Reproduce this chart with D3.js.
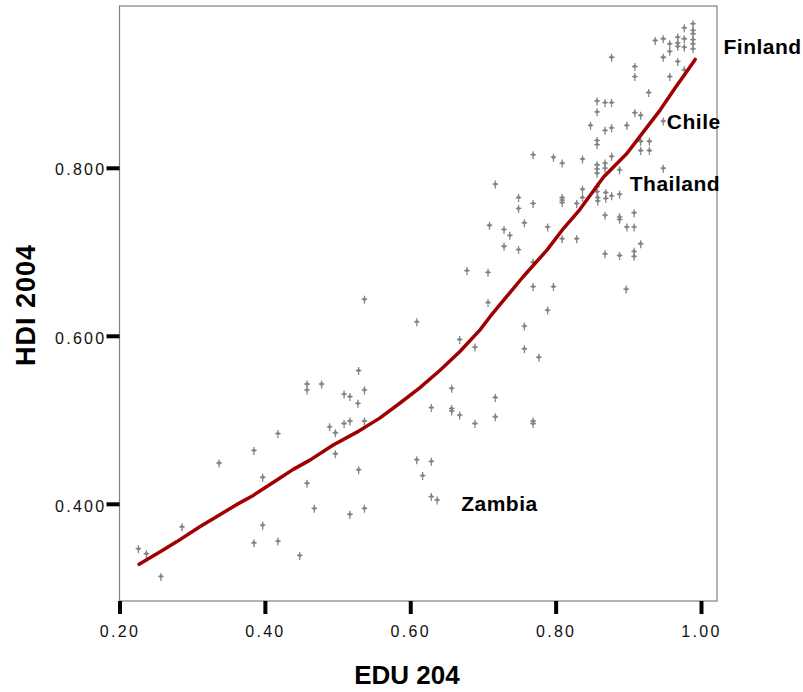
<!DOCTYPE html>
<html>
<head>
<meta charset="utf-8">
<script src="https://cdn.jsdelivr.net/npm/d3@7"></script>
<style>
	html, body { margin: 0; padding: 0; background: #fff; }
	svg { display: block; font-family: "Liberation Sans", Arial, sans-serif; }
</style>
</head>
<body>
<div id="chart"></div>
<script>
// scatter: education index vs HDI, one entry per country
var eduValues = [
	0.226, 0.237, 0.257, 0.286, 0.337, 0.385, 0.397, 0.418, 0.397, 0.385,
	0.418, 0.448, 0.458, 0.458, 0.458, 0.537, 0.609, 0.668, 0.689, 0.529,
	0.478, 0.509, 0.517, 0.537, 0.528, 0.489, 0.497, 0.509, 0.517, 0.537,
	0.497, 0.529, 0.468, 0.517, 0.537, 0.657, 0.629, 0.657, 0.657, 0.668,
	0.689, 0.609, 0.629, 0.617, 0.629, 0.637, 0.678, 0.707, 0.707, 0.769,
	0.797, 0.809, 0.837, 0.717, 0.749, 0.749, 0.769, 0.809, 0.809, 0.809,
	0.837, 0.837, 0.829, 0.709, 0.729, 0.737, 0.757, 0.789, 0.809, 0.829,
	0.729, 0.749, 0.769, 0.769, 0.797, 0.789, 0.757, 0.757, 0.777, 0.717,
	0.717, 0.769, 0.769, 0.858, 0.858, 0.869, 0.869, 0.877, 0.888, 0.868,
	0.888, 0.888, 0.908, 0.898, 0.908, 0.917, 0.868, 0.888, 0.908, 0.908,
	0.897, 0.928, 0.857, 0.868, 0.877, 0.857, 0.909, 0.917, 0.948, 0.848,
	0.868, 0.877, 0.898, 0.857, 0.857, 0.917, 0.929, 0.917, 0.929, 0.877,
	0.857, 0.857, 0.857, 0.868, 0.868, 0.888, 0.948, 0.857, 0.857, 0.877,
	0.909, 0.909, 0.937, 0.948, 0.957, 0.957, 0.968, 0.968, 0.968, 0.977,
	0.977, 0.977, 0.989, 0.989, 0.989, 0.989, 0.989, 0.989, 0.948, 0.968,
	0.957, 0.977
];
var hdiValues = [
	0.346, 0.340, 0.313, 0.372, 0.448, 0.463, 0.431, 0.483, 0.374, 0.353,
	0.355, 0.338, 0.542, 0.535, 0.424, 0.643, 0.616, 0.595, 0.586, 0.558,
	0.542, 0.530, 0.527, 0.535, 0.519, 0.491, 0.484, 0.495, 0.498, 0.498,
	0.459, 0.440, 0.394, 0.387, 0.394, 0.537, 0.514, 0.513, 0.510, 0.505,
	0.495, 0.452, 0.450, 0.433, 0.408, 0.404, 0.677, 0.675, 0.639, 0.815,
	0.812, 0.805, 0.810, 0.780, 0.764, 0.751, 0.757, 0.764, 0.761, 0.758,
	0.774, 0.764, 0.757, 0.731, 0.726, 0.719, 0.734, 0.729, 0.715, 0.715,
	0.706, 0.702, 0.687, 0.658, 0.658, 0.630, 0.611, 0.584, 0.574, 0.526,
	0.503, 0.498, 0.495, 0.764, 0.760, 0.770, 0.763, 0.766, 0.768, 0.743,
	0.741, 0.738, 0.746, 0.729, 0.729, 0.709, 0.697, 0.695, 0.700, 0.694,
	0.655, 0.889, 0.879, 0.877, 0.877, 0.866, 0.865, 0.862, 0.855, 0.850,
	0.844, 0.847, 0.850, 0.832, 0.827, 0.831, 0.831, 0.820, 0.820, 0.813,
	0.803, 0.798, 0.793, 0.805, 0.799, 0.797, 0.799, 0.777, 0.771, 0.931,
	0.920, 0.908, 0.951, 0.953, 0.947, 0.938, 0.955, 0.948, 0.944, 0.966,
	0.953, 0.943, 0.971, 0.963, 0.959, 0.952, 0.947, 0.941, 0.931, 0.926,
	0.908, 0.916
];

// loess fit line
var fitEdu = [0.227, 0.256, 0.279, 0.311, 0.338, 0.361, 0.384, 0.416, 0.439, 0.462,
	0.494, 0.526, 0.558, 0.586, 0.613, 0.641, 0.668, 0.696, 0.710, 0.755,
	0.788, 0.811, 0.833, 0.866, 0.898, 0.921, 0.944, 0.966, 0.980, 0.992];
var fitHdi = [0.328, 0.343, 0.355, 0.373, 0.387, 0.399, 0.410, 0.428, 0.441, 0.452,
	0.470, 0.485, 0.502, 0.520, 0.538, 0.559, 0.581, 0.607, 0.623, 0.670,
	0.702, 0.728, 0.750, 0.789, 0.817, 0.843, 0.869, 0.897, 0.914, 0.929];

var xTicks = [0.2, 0.4, 0.6, 0.8, 1.0];
var yTicks = [0.4, 0.6, 0.8];

// country labels
var labelNames = ['Finland', 'Chile', 'Thailand', 'Zambia'];
var labelEdu = [1.031, 0.953, 0.902, 0.670];
var labelHdi = [0.944, 0.855, 0.781, 0.400];

var width = 803, height = 692;

var svg = d3.select('#chart').append('svg')
	.attr('width', width)
	.attr('height', height);

var x = d3.scaleLinear().domain([0.2, 1.022]).range([119.5, 717]);
var y = d3.scaleLinear().domain([0.2843, 0.9926]).range([601, 6]);

/*
 * frame
 */
svg.append('rect')
	.attr('x', x.range()[0])
	.attr('y', y.range()[1])
	.attr('width', x.range()[1]-x.range()[0])
	.attr('height', y.range()[0]-y.range()[1])
	.attr('fill', 'none')
	.attr('stroke', '#808080')
	.attr('stroke-width', 1.2);

/*
 * axes
 */
var xAxis = svg.append('g')
	.attr('transform', 'translate(0,' + y.range()[0] + ')')
	.call(d3.axisBottom(x).tickValues(xTicks).tickFormat(d3.format('.2f')).tickSize(13).tickPadding(12));

var yAxis = svg.append('g')
	.attr('transform', 'translate(' + x.range()[0] + ',0)')
	.call(d3.axisLeft(y).tickValues(yTicks).tickFormat(d3.format('.3f')).tickSize(13).tickPadding(0));

[xAxis, yAxis].forEach(function(g) {
	g.select('.domain').remove();
	g.selectAll('.tick line').attr('stroke', '#000').attr('stroke-width', 4);
	g.selectAll('.tick text')
		.attr('fill', '#111')
		.style('font-family', '"Liberation Sans", Arial, sans-serif')
		.style('font-size', '16px')
		.style('letter-spacing', '2.3px');
});
yAxis.selectAll('.tick text').attr('dy', '0.45em');

/*
 * axis titles
 */
svg.append('text')
	.attr('x', 407)
	.attr('y', 684)
	.attr('text-anchor', 'middle')
	.style('font-size', '26px')
	.style('font-weight', 'bold')
	.text('EDU 204');

svg.append('text')
	.attr('transform', 'translate(35,305) rotate(-90)')
	.attr('text-anchor', 'middle')
	.style('font-size', '27px')
	.style('font-weight', 'bold')
	.style('letter-spacing', '1px')
	.text('HDI 2004');

/*
 * scatter points
 */
var points = eduValues.map(function(d, i) {
	return {'x': d, 'y': hdiValues[i]};
});

svg.append('g').selectAll('.pt')
	.data(points)
		.enter()
			.append('path')
				.attr('class', 'pt')
				.attr('transform', function(d) {
					return 'translate(' + x(d['x']) + ',' + y(d['y']) + ')';
				})
				.attr('d', 'M0,-4V4M-2.8,-0.5H2.8M-1.5,-0.5L0,-2L1.5,-0.5L0,1Z')
				.attr('fill', '#858585')
				.attr('stroke', '#858585')
				.attr('stroke-width', 1.3);

/*
 * fit line
 */
var fit = fitEdu.map(function(d, i) {
	return [d, fitHdi[i]];
});

svg.append('path')
	.datum(fit)
	.attr('fill', 'none')
	.attr('stroke', '#a00000')
	.attr('stroke-width', 3.5)
	.attr('stroke-linejoin', 'round')
	.attr('stroke-linecap', 'round')
	.attr('d', d3.line()
		.x(function(d) { return x(d[0]); })
		.y(function(d) { return y(d[1]); }));

/*
 * country labels
 */
svg.append('g').selectAll('.label')
	.data(labelNames)
		.enter()
			.append('text')
				.attr('class', 'label')
				.attr('x', function(d, i) { return x(labelEdu[i]); })
				.attr('y', function(d, i) { return y(labelHdi[i]); })
				.attr('dy', '0.36em')
				.style('font-size', '21px')
				.style('font-weight', 'bold')
				.style('letter-spacing', '0.5px')
				.text(function(d) { return d; });
</script>
</body>
</html>
